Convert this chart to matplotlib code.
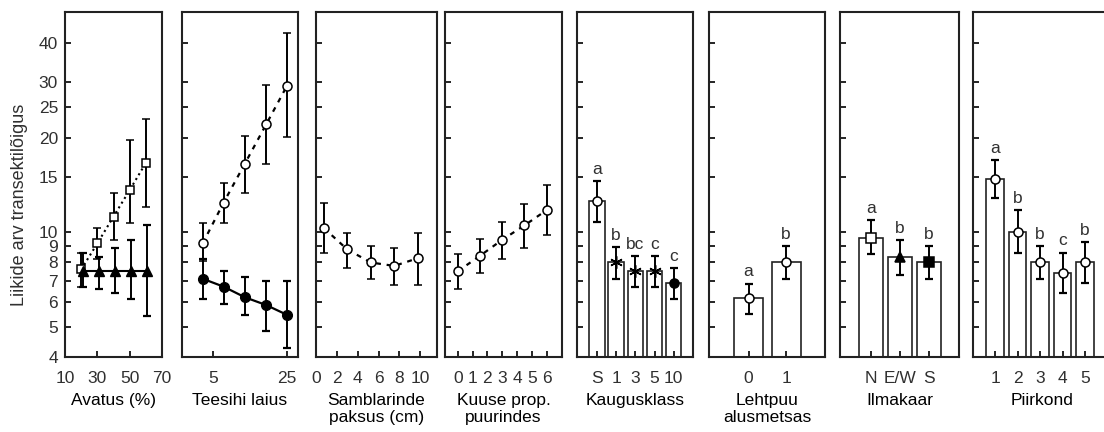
import numpy as np
import matplotlib
matplotlib.use('Agg')
import matplotlib.pyplot as plt
from matplotlib.ticker import FixedLocator, NullFormatter, NullLocator, FixedFormatter

plt.rcParams['font.family'] = ['Liberation Sans', 'DejaVu Sans']
plt.rcParams['font.size'] = 12.5
plt.rcParams['text.color'] = '#303030'
plt.rcParams['xtick.labelcolor'] = '#303030'
plt.rcParams['ytick.labelcolor'] = '#303030'

y_ticks = [4, 5, 6, 7, 8, 9, 10, 15, 20, 25, 30, 40]

# Avatus (%): two groups
avatus_sq_x = [20, 30, 40, 50, 60]
avatus_sq = [7.6, 9.2, 11.2, 13.6, 16.6]
avatus_sq_lo = [6.7, 8.2, 9.4, 10.7, 12.0]
avatus_sq_hi = [8.6, 10.3, 13.3, 19.7, 22.9]
avatus_tri_x = [21, 31, 41, 51, 61]
avatus_tri = [7.5, 7.5, 7.5, 7.5, 7.5]
avatus_tri_lo = [6.7, 6.6, 6.4, 6.1, 5.4]
avatus_tri_hi = [8.6, 8.3, 8.9, 9.4, 10.5]

# Teesihi laius
tee_x = [4, 6.3, 10, 16, 25]
tee_open = [9.2, 12.4, 16.5, 22.1, 29.2]
tee_open_lo = [8.1, 10.7, 13.3, 16.5, 20.1]
tee_open_hi = [10.7, 14.3, 20.2, 29.4, 43.0]
tee_fill = [7.1, 6.7, 6.2, 5.85, 5.45]
tee_fill_lo = [6.1, 5.9, 5.45, 4.85, 4.27]
tee_fill_hi = [8.2, 7.5, 7.2, 7.0, 7.0]

# Samblarinde paksus (cm)
sam_x = [0.75, 3.0, 5.25, 7.5, 9.75]
sam = [10.3, 8.8, 8.0, 7.8, 8.25]
sam_lo = [8.6, 7.7, 7.1, 6.8, 6.8]
sam_hi = [12.4, 9.9, 9.0, 8.9, 9.9]

# Kuuse prop. puurindes
kuu_x = [0, 1.5, 3, 4.5, 6]
kuu = [7.5, 8.4, 9.45, 10.5, 11.75]
kuu_lo = [6.6, 7.4, 8.2, 8.9, 9.8]
kuu_hi = [8.5, 9.5, 10.8, 12.3, 14.1]

# Kaugusklass
kau_cats = ['S', '1', '3', '5', '10']
kau = [12.6, 8.0, 7.5, 7.5, 6.87]
kau_lo = [10.8, 7.1, 6.7, 6.7, 6.1]
kau_hi = [14.5, 8.95, 8.4, 8.4, 7.7]
kau_letters = ['a', 'b', 'bc', 'c', 'c']

# Lehtpuu alusmetsas
leh_cats = ['0', '1']
leh = [6.15, 8.0]
leh_lo = [5.5, 7.1]
leh_hi = [6.85, 9.0]
leh_letters = ['a', 'b']

# Ilmakaar
ilm_cats = ['N', 'E/W', 'S']
ilm = [9.6, 8.3, 8.0]
ilm_lo = [8.5, 7.3, 7.1]
ilm_hi = [10.9, 9.4, 9.0]
ilm_letters = ['a', 'b', 'b']

# Piirkond
pii_cats = ['1', '2', '3', '4', '5']
pii = [14.7, 10.0, 8.0, 7.4, 8.0]
pii_lo = [12.8, 8.6, 7.1, 6.4, 6.9]
pii_hi = [16.9, 11.75, 9.0, 8.6, 9.3]
pii_letters = ['a', 'b', 'b', 'c', 'b']

W, H = 1104, 432
fig = plt.figure(figsize=(W / 100, H / 100), dpi=100)
top, bottom = 12, 357


def make_ax(left, right):
    ax = fig.add_axes([left / W, 1 - bottom / H, (right - left) / W, (bottom - top) / H])
    ax.set_yscale('log')
    ax.set_ylim(4, 50.2)
    ax.yaxis.set_major_locator(FixedLocator(y_ticks))
    ax.yaxis.set_minor_locator(NullLocator())
    ax.yaxis.set_major_formatter(NullFormatter())
    ax.yaxis.set_minor_formatter(NullFormatter())
    ax.tick_params(direction='in', length=4, width=1.2, pad=10)
    ax.tick_params(axis='y', pad=5)
    for s in ax.spines.values():
        s.set_linewidth(1.5)
        s.set_color('#222222')
    return ax


def err(vals, lo, hi):
    vals = np.array(vals)
    return [vals - np.array(lo), np.array(hi) - vals]


ebkw = dict(ecolor='black', elinewidth=1.4, capsize=3, capthick=1.6)
star = (6, 2, 0)


def bar_panel(ax, cats, vals, lo, hi, letters, markers, fills, sizes, width=0.8):
    x = np.arange(len(cats))
    ax.bar(x, vals, width=width, color='white', edgecolor='#222222', linewidth=1.2, zorder=1)
    for i in range(len(cats)):
        ax.errorbar(x[i], vals[i], yerr=[[vals[i] - lo[i]], [hi[i] - vals[i]]], fmt='none', zorder=2, **ebkw)
        ax.plot(x[i], vals[i], marker=markers[i], ms=sizes[i],
                mfc=fills[i], mec='black', mew=1.1, ls='none', zorder=3)
        ax.annotate(letters[i], (x[i], hi[i]), xytext=(0, 3), textcoords='offset points',
                    ha='center', va='bottom')
    ax.set_xticks(x)
    ax.set_xticklabels(cats)


# 1. Avatus
ax1 = make_ax(65, 162)
ax1.set_xlim(10, 70)
ax1.set_xticks([10, 30, 50, 70])
ax1.plot(avatus_sq_x, avatus_sq, ls=':', color='black', lw=1.5, zorder=1)
ax1.errorbar(avatus_sq_x, avatus_sq, yerr=err(avatus_sq, avatus_sq_lo, avatus_sq_hi), fmt='s',
             ms=5.5, mfc='white', mec='black', mew=1.1, zorder=3, **ebkw)
ax1.plot(avatus_tri_x, avatus_tri, ls='-', color='black', lw=1.5, zorder=1)
ax1.errorbar(avatus_tri_x, avatus_tri, yerr=err(avatus_tri, avatus_tri_lo, avatus_tri_hi), fmt='^',
             ms=7, mfc='black', mec='black', zorder=3, **ebkw)
ax1.yaxis.set_major_formatter(FixedFormatter([str(t) for t in y_ticks]))
ax1.set_xlabel('Avatus (%)', labelpad=5)

# 2. Teesihi laius
ax2 = make_ax(182, 298)
ax2.set_xscale('log')
ax2.set_xlim(2.55, 31.8)
ax2.xaxis.set_major_locator(FixedLocator([5, 25]))
ax2.xaxis.set_minor_locator(NullLocator())
ax2.xaxis.set_major_formatter(FixedFormatter(['5', '25']))
ax2.xaxis.set_minor_formatter(NullFormatter())
ax2.plot(tee_x, tee_open, color='black', lw=1.6, dashes=(2.2, 2.6), zorder=1)
ax2.errorbar(tee_x, tee_open, yerr=err(tee_open, tee_open_lo, tee_open_hi), fmt='o',
             ms=6.5, mfc='white', mec='black', mew=1.1, zorder=3, **ebkw)
ax2.plot(tee_x, tee_fill, color='black', lw=1.6, zorder=1)
ax2.errorbar(tee_x, tee_fill, yerr=err(tee_fill, tee_fill_lo, tee_fill_hi), fmt='o',
             ms=7, mfc='black', mec='black', zorder=3, **ebkw)
ax2.set_xlabel('Teesihi laius', labelpad=5)

# 3. Samblarinde paksus
ax3 = make_ax(316, 437)
ax3.set_xlim(0, 11.6)
ax3.set_xticks([0, 2, 4, 6, 8, 10])
ax3.plot(sam_x, sam, color='black', lw=1.6, dashes=(2.2, 2.6), zorder=1)
ax3.errorbar(sam_x, sam, yerr=err(sam, sam_lo, sam_hi), fmt='o',
             ms=6.5, mfc='white', mec='black', mew=1.1, zorder=3, **ebkw)
ax3.set_xlabel('Samblarinde\npaksus (cm)', labelpad=5)

# 4. Kuuse prop. puurindes
ax4 = make_ax(445, 562)
ax4.set_xlim(-0.86, 7.03)
ax4.set_xticks(range(7))
ax4.plot(kuu_x, kuu, color='black', lw=1.6, dashes=(2.2, 2.6), zorder=1)
ax4.errorbar(kuu_x, kuu, yerr=err(kuu, kuu_lo, kuu_hi), fmt='o',
             ms=6.5, mfc='white', mec='black', mew=1.1, zorder=3, **ebkw)
ax4.set_xlabel('Kuuse prop.\npuurindes', labelpad=5)

# 5. Kaugusklass
ax5 = make_ax(577, 693)
ax5.set_xlim(-1.04, 5.0)
bar_panel(ax5, kau_cats, kau, kau_lo, kau_hi, kau_letters,
          ['o', star, star, star, 'o'], ['white', 'black', 'black', 'black', 'black'],
          [6.5, 9, 9, 9, 6.5])
ax5.set_xlabel('Kaugusklass', labelpad=5)

# 6. Lehtpuu alusmetsas
ax6 = make_ax(709, 825)
ax6.set_xlim(-1.05, 2.03)
bar_panel(ax6, leh_cats, leh, leh_lo, leh_hi, leh_letters, ['o', 'o'], ['white', 'white'],
          [6.5, 6.5], width=0.76)
ax6.set_xlabel('Lehtpuu\nalusmetsas', labelpad=5)

# 7. Ilmakaar
ax7 = make_ax(840, 959)
ax7.set_xlim(-1.07, 3.03)
bar_panel(ax7, ilm_cats, ilm, ilm_lo, ilm_hi, ilm_letters, ['s', '^', 's'], ['white', 'black', 'black'],
          [7, 7.5, 7])
ax7.set_xlabel('Ilmakaar', labelpad=5)

# 8. Piirkond
ax8 = make_ax(973, 1112)
bar_panel(ax8, pii_cats, pii, pii_lo, pii_hi, pii_letters, ['o'] * 5, ['white'] * 5, [6.5] * 5, width=0.78)
ax8.set_xlim(-0.98, 5.2)
ax8.set_xlabel('Piirkond', labelpad=5)

fig.text(20 / W, 1 - 205 / H, 'Liikide arv transektilõigus', rotation=90,
         ha='center', va='center', fontsize=13)

fig.savefig('out.png', dpi=100)
